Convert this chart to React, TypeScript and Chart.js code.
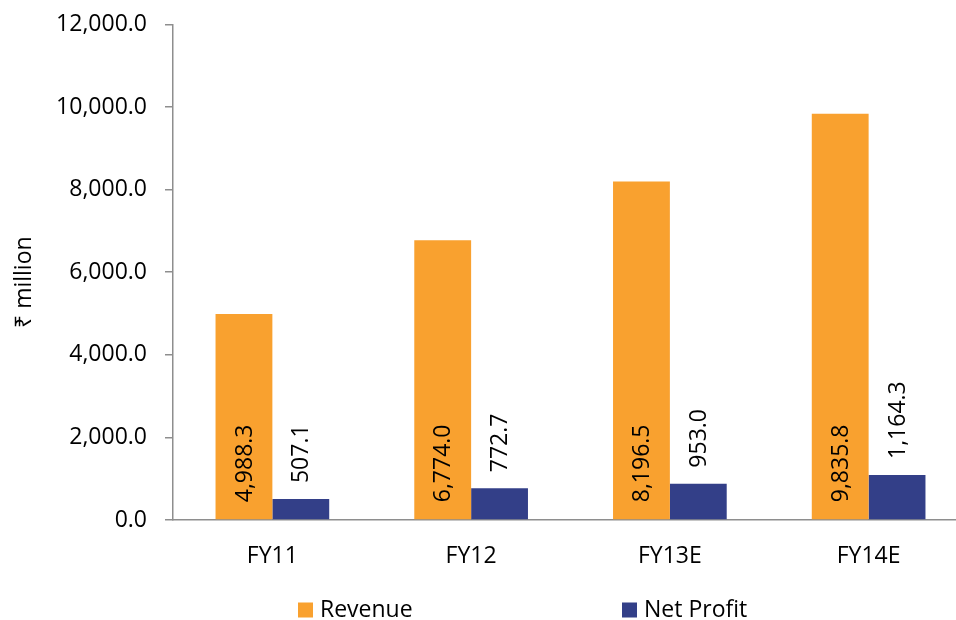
import React, { useEffect, useRef } from "react";
import { Chart, registerables } from "chart.js";

Chart.register(...registerables);

// ---- data ----
const categories = ["FY11", "FY12", "FY13E", "FY14E"];
const seriesNames = ["Revenue", "Net Profit"];
const revenue = [4988.3, 6774.0, 8196.5, 9835.8];
// bar heights as drawn in the picture
const netProfit = [507.1, 770.0, 880.0, 1090.0];
// value labels as printed on the picture
const revenueLabels = ["4,988.3", "6,774.0", "8,196.5", "9,835.8"];
const netProfitLabels = ["507.1", "772.7", "953.0", "1,164.3"];
const yTicks = [0, 2000, 4000, 6000, 8000, 10000, 12000];
const yAxisTitle = "₹ million";

// ---- style ----
const COLORS = ["#F9A12F", "#333F88"];
const AXIS = "#8E8E8E";
const FONT = "'Open Sans', 'Noto Sans', 'DejaVu Sans', sans-serif";
const FS = 23;
const LEGEND_X = [298, 622];
const LEGEND_Y = 610;
const TITLE_X = 24;
const TITLE_SHIFT = 10;

const valueLabelPlugin = {
  id: "valueLabels",
  afterDatasetsDraw(chart: any) {
    const ctx = chart.ctx;
    const labelSets = [revenueLabels, netProfitLabels];
    ctx.save();
    ctx.font = `${FS}px ${FONT}`;
    ctx.fillStyle = "#000";
    ctx.textAlign = "left";
    ctx.textBaseline = "middle";
    chart.data.datasets.forEach((_: any, di: number) => {
      const meta = chart.getDatasetMeta(di);
      meta.data.forEach((el: any, i: number) => {
        const startY = di === 0 ? el.base - 17 : el.y - 16;
        ctx.save();
        ctx.translate(el.x + 1, startY);
        ctx.rotate(-Math.PI / 2);
        ctx.fillText(labelSets[di][i], 0, 0);
        ctx.restore();
      });
    });
    ctx.restore();
  },
};

const legendPlugin = {
  id: "bottomLegend",
  afterDraw(chart: any) {
    const ctx = chart.ctx;
    ctx.save();
    ctx.font = `${FS}px ${FONT}`;
    ctx.textAlign = "left";
    ctx.textBaseline = "middle";
    chart.data.datasets.forEach((ds: any, i: number) => {
      const x = LEGEND_X[i];
      ctx.fillStyle = ds.backgroundColor;
      ctx.fillRect(x, LEGEND_Y - 7.5, 15, 15);
      ctx.fillStyle = "#000";
      ctx.fillText(ds.label, x + 22, LEGEND_Y);
    });
    // y axis title
    const area = chart.chartArea;
    ctx.save();
    ctx.translate(TITLE_X, (area.top + area.bottom) / 2 + TITLE_SHIFT);
    ctx.rotate(-Math.PI / 2);
    ctx.textAlign = "center";
    ctx.fillStyle = "#000";
    ctx.fillText(yAxisTitle, 0, 0);
    ctx.restore();
    ctx.restore();
  },
};

export default function App() {
  const ref = useRef<HTMLCanvasElement | null>(null);

  useEffect(() => {
    if (!ref.current) return;
    const chart = new Chart(ref.current, {
      type: "bar",
      data: {
        labels: categories,
        datasets: [
          {
            label: seriesNames[0],
            data: revenue,
            backgroundColor: COLORS[0],
            categoryPercentage: 0.572,
            barPercentage: 1.0,
          },
          {
            label: seriesNames[1],
            data: netProfit,
            backgroundColor: COLORS[1],
            categoryPercentage: 0.572,
            barPercentage: 1.0,
          },
        ],
      },
      options: {
        animation: false,
        responsive: true,
        maintainAspectRatio: false,
        layout: { padding: { top: 24.4, right: 0, bottom: 52, left: 0 } },
        plugins: {
          legend: { display: false },
          tooltip: { enabled: false },
        },
        scales: {
          x: {
            afterFit: (scale: any) => {
              scale.height = 48;
            },
            grid: { display: false, drawTicks: false },
            border: { display: true, color: AXIS, width: 1.5 },
            ticks: {
              color: "#000",
              font: { family: FONT, size: FS },
              padding: 23,
              maxRotation: 0,
            },
          },
          y: {
            min: 0,
            max: 12000,
            afterBuildTicks: (scale: any) => {
              scale.ticks = yTicks.map((v) => ({ value: v }));
            },
            afterFit: (scale: any) => {
              scale.width = 173;
              scale.paddingTop = 0;
              scale.paddingBottom = 0;
            },
            grid: {
              display: true,
              drawOnChartArea: false,
              drawTicks: true,
              tickLength: 8,
              color: AXIS,
              lineWidth: 1.5,
            },
            border: { display: true, color: AXIS, width: 1.5 },
            ticks: {
              color: "#000",
              font: { family: FONT, size: FS },
              padding: 18,
              callback: (v: any) =>
                Number(v).toLocaleString("en-US", {
                  minimumFractionDigits: 1,
                  maximumFractionDigits: 1,
                }),
            },
            title: { display: false },
          },
        },
      },
      plugins: [valueLabelPlugin, legendPlugin],
    });
    return () => chart.destroy();
  }, []);

  return (
    <div
      style={{
        position: "fixed",
        left: 0,
        top: 0,
        width: 956,
        height: 620,
        overflow: "hidden",
        background: "#fff",
      }}
    >
      <div style={{ position: "relative", width: 968, height: 620 }}>
        <canvas ref={ref} />
      </div>
    </div>
  );
}
